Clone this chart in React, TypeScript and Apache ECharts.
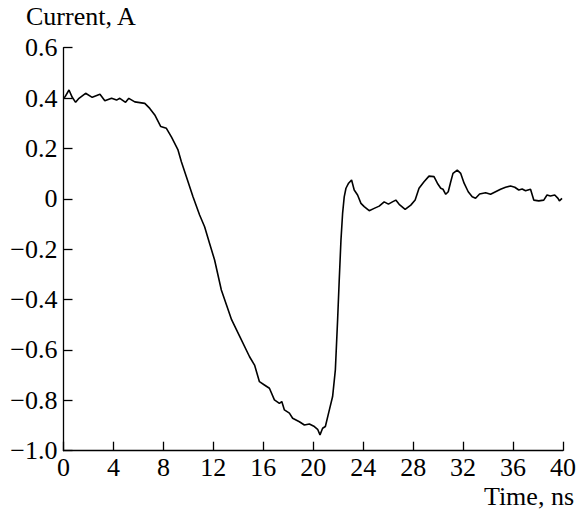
import React, { useEffect, useRef } from "react";
import * as echarts from "echarts";

const timeNs: number[] = [
  0, 0.12, 0.44, 0.7, 0.97, 1.24, 1.77, 2.3, 2.92, 3.31, 3.85, 4.25, 4.51, 4.97, 5.23, 5.71, 6.51, 6.91, 7.31, 7.79,
  8.24, 8.64, 9.17, 9.44, 9.84, 10.37, 10.9, 11.3, 11.7, 12.1, 12.64, 13.46, 14.1, 14.9, 15.3, 15.69, 16.09, 16.49,
  16.89, 17.29, 17.48, 17.69, 18.09, 18.35, 18.89, 19.29, 19.69, 20.09, 20.35, 20.54, 20.75, 20.97, 21.29, 21.55,
  21.77, 21.95, 22.08, 22.22, 22.35, 22.48, 22.62, 22.83, 23.07, 23.28, 23.55, 23.82, 24.08, 24.48, 24.88, 25.28,
  25.68, 26.02, 26.34, 26.61, 26.88, 27.36, 27.81, 28.16, 28.47, 28.87, 29.27, 29.67, 29.94, 30.21, 30.39, 30.61,
  30.81, 31.01, 31.19, 31.53, 31.81, 32.08, 32.41, 32.73, 33.0, 33.32, 33.8, 34.2, 34.6, 35.0, 35.4, 35.8, 36.14,
  36.46, 36.73, 37.0, 37.4, 37.66, 38.06, 38.46, 38.72, 38.99, 39.34, 39.6, 39.71, 39.92,
];

const currentA: number[] = [
  0.4, 0.405, 0.432, 0.403, 0.383, 0.399, 0.419, 0.403, 0.415, 0.389, 0.399, 0.392, 0.399, 0.383, 0.399, 0.385, 0.379,
  0.359, 0.333, 0.287, 0.28, 0.246, 0.194, 0.147, 0.088, 0.008, -0.064, -0.111, -0.177, -0.243, -0.362, -0.48, -0.545,
  -0.627, -0.66, -0.726, -0.739, -0.752, -0.798, -0.812, -0.805, -0.838, -0.851, -0.871, -0.885, -0.898, -0.894,
  -0.904, -0.915, -0.937, -0.911, -0.904, -0.838, -0.785, -0.679, -0.481, -0.323, -0.163, -0.058, 0.008, 0.042, 0.062,
  0.075, 0.035, 0.015, -0.018, -0.031, -0.047, -0.038, -0.029, -0.012, -0.021, -0.012, -0.005, -0.022, -0.042,
  -0.025, -0.005, 0.042, 0.068, 0.09, 0.088, 0.062, 0.042, 0.038, 0.018, 0.028, 0.068, 0.101, 0.114, 0.101, 0.062,
  0.028, 0.008, 0.002, 0.019, 0.024, 0.018, 0.028, 0.038, 0.046, 0.051, 0.046, 0.035, 0.039, 0.032, 0.038, -0.005,
  -0.008, -0.005, 0.015, 0.011, 0.015, 0.002, -0.008, 0.002,
];

const yAxisTitle = "Current, A";
const xAxisTitle = "Time, ns";

const FONT = "Liberation Serif";

export default function App() {
  const ref = useRef<HTMLDivElement>(null);
  useEffect(() => {
    if (!ref.current) return;
    const chart = echarts.init(ref.current, undefined, { renderer: "svg" });
    const data = timeNs.map((t, i) => [t, currentA[i]]);
    chart.setOption({
      animation: false,
      backgroundColor: "#ffffff",
      textStyle: { fontFamily: FONT },
      grid: { left: 63.5, right: 14.7, top: 47.7, bottom: 61.3, containLabel: false },
      xAxis: {
        type: "value",
        min: 0,
        max: 40,
        interval: 4,
        axisLine: { show: true, onZero: false, lineStyle: { color: "#000", width: 1.3 } },
        axisTick: { show: true, inside: true, length: 9, lineStyle: { color: "#000", width: 1.3 } },
        axisLabel: { color: "#000", fontFamily: FONT, fontSize: 26, margin: 4 },
        splitLine: { show: false },
      },
      yAxis: {
        type: "value",
        min: -1,
        max: 0.6,
        interval: 0.2,
        axisLine: { show: true, onZero: false, lineStyle: { color: "#000", width: 1.3 } },
        axisTick: { show: true, inside: true, length: 9, lineStyle: { color: "#000", width: 1.3 } },
        axisLabel: {
          color: "#000",
          fontFamily: FONT,
          fontSize: 26,
          margin: 6,
          formatter: (v: number) => {
            const r = Math.round(v * 10) / 10;
            if (Math.abs(r) < 1e-9) return "0";
            const s = Math.abs(r).toFixed(1);
            return r < 0 ? "\u2212" + s : s;
          },
        },
        splitLine: { show: false },
      },
      series: [
        {
          type: "line",
          data,
          showSymbol: false,
          symbol: "none",
          lineStyle: { color: "#000", width: 1.6 },
        },
      ],
      graphic: [
        {
          type: "text",
          left: 26,
          top: 3,
          style: { text: yAxisTitle, fill: "#000", font: `26px ${FONT}` },
        },
        {
          type: "text",
          right: 5,
          top: 483,
          style: { text: xAxisTitle, fill: "#000", font: `26px ${FONT}` },
        },
      ],
    });
    return () => chart.dispose();
  }, []);
  return (
    <div
      ref={ref}
      style={{ position: "fixed", left: 0, top: 0, width: 579, height: 512, background: "#fff" }}
    />
  );
}
